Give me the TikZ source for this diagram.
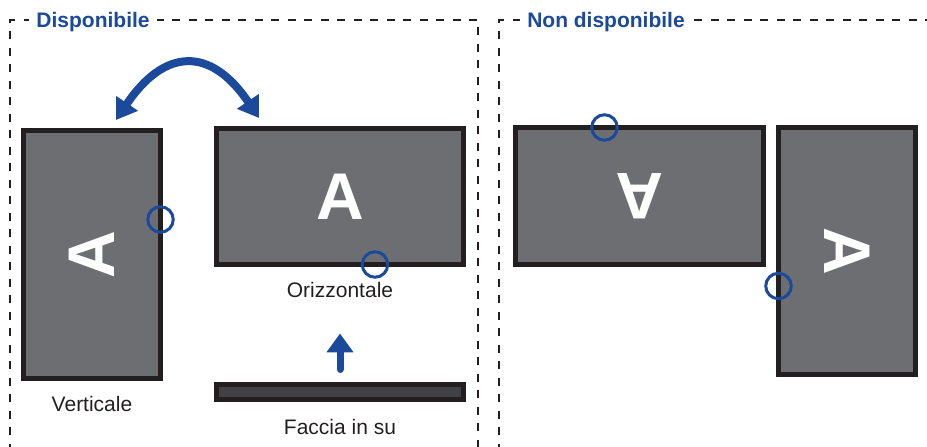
\documentclass[tikz,border=0pt]{standalone}
\usepackage{fontspec}
\setmainfont{Liberation Sans}
\usetikzlibrary{arrows.meta, positioning}

\definecolor{screengray}{HTML}{6D6E71}
\definecolor{bezel}{HTML}{231F20}
\definecolor{backgray}{HTML}{414042}
\definecolor{tagblue}{HTML}{1B4A9C}

\begin{document}
\begin{tikzpicture}[x=1pt, y=1pt,
  monitor/.style={rectangle, draw=bezel, line width=5pt, fill=screengray, inner sep=0pt, outer sep=0pt},
  letter/.style={text=white, font=\fontsize{66}{66}\selectfont\bfseries, inner sep=0pt},
  knob/.style={circle, draw=tagblue, line width=3pt, minimum size=25.5pt, inner sep=0pt},
  caption/.style={font=\fontsize{21}{21}\selectfont, text=bezel, inner sep=0pt, outer sep=0pt},
  heading/.style={font=\fontsize{21}{21}\selectfont\bfseries, text=tagblue, fill=white, inner xsep=7pt, inner ysep=3pt, anchor=base},
  frame/.style={draw=bezel, line width=2pt, dash pattern=on 8pt off 8.5pt},
  bluearrow/.style={draw=tagblue, line width=8pt}]
\useasboundingbox (0,0) rectangle (927,447);

% Dashed frames
\draw[frame] (10,-5) |- (478,427) -- (478,-5);
\draw[frame] (499,-5) |- (935,427);
\node[heading] (avail) at (93,419.5) {Disponibile};
\node[heading] (notavail) at (606,419.5) {Non disponibile};

% Monitors
\node[monitor, minimum width=137pt, minimum height=248pt] (vert) at (92,192.5) {};
\node[monitor, minimum width=247pt, minimum height=136pt] (horiz) at (340,250.5) {};
\node[monitor, fill=backgray, minimum width=247pt, minimum height=15pt] (faceup) at (340,55) {};
\node[monitor, minimum width=248pt, minimum height=137pt] (wrongh) at (639.5,251) {};
\node[monitor, minimum width=137pt, minimum height=247pt] (wrongv) at (847,196) {};

% Letters on the screens
\node[letter, rotate=90] (vertA) at (vert) {A};
\node[letter] (horizA) at (horiz) {A};
\node[letter, rotate=180] (wronghA) at (wrongh) {A};
\node[letter, rotate=-90] (wrongvA) at (wrongv) {A};

% Knobs
\node[knob] (vertk) at ([yshift=35pt]vert.east) {};
\node[knob] (horizk) at ([xshift=35pt]horiz.south) {};
\node[knob] (wronghk) at ([xshift=-35pt]wrongh.north) {};
\node[knob] (wrongvk) at ([yshift=-35pt]wrongv.west) {};

% Captions
\node[caption, below=18pt of vert] (vertcap) {Verticale};
\node[caption, below=18pt of horiz] (horizcap) {Orizzontale};
\node[caption, below=20pt of faceup] (faceupcap) {Faccia in su};

% Arrows
\coordinate (upfoot) at ([yshift=15pt]faceup.north);
\coordinate (uptip) at ([yshift=51pt]faceup.north);
\draw[bluearrow, line width=7pt, line cap=round, -{Triangle[length=19pt, width=26pt]}] (upfoot) -- (uptip);
\coordinate (swingl) at (116,327);
\coordinate (swingr) at (259,329);
\draw[bluearrow, {Triangle[length=20pt, width=25pt]}-{Triangle[length=20pt, width=25pt]}]
  (swingl) to[out=56, in=124, looseness=1.55] (swingr);
\end{tikzpicture}
\end{document}
